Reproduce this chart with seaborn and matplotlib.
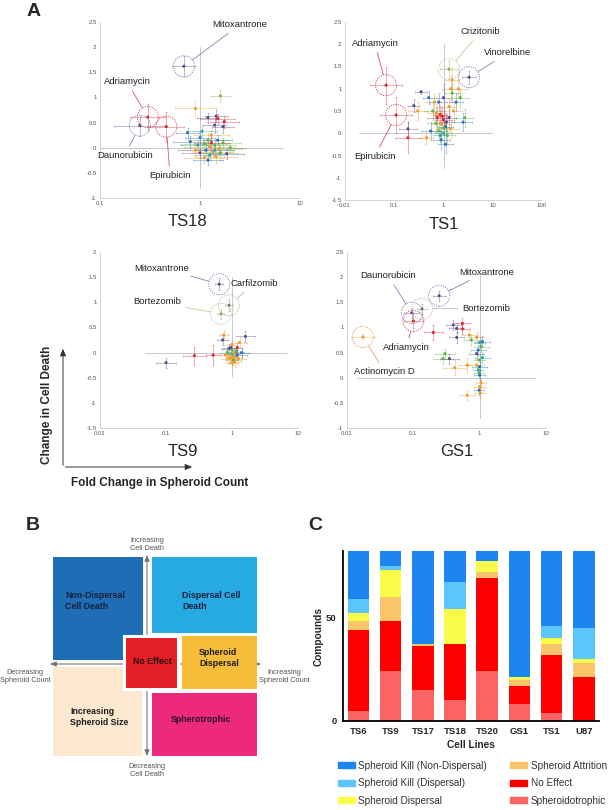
"""
Spheroid screen summary figure
==============================
A: four drug screens (fold change in spheroid count vs change in cell death)
B: classification schematic
C: stacked counts of compound classes per cell line
"""

import numpy as np
import pandas as pd
import matplotlib
matplotlib.use("Agg")
import matplotlib.pyplot as plt
from matplotlib.patches import Rectangle
from matplotlib.ticker import NullLocator
import seaborn as sns

sns.set_theme(style="white")
plt.rcParams["font.family"] = ["Liberation Sans", "DejaVu Sans"]

W, H = 615, 810

# point colours and the dotted ring colours
PALETTE = {
    "blue": "#2f6fc0", "orange": "#f39a2a", "green": "#5cb648", "red": "#e0262f",
    "purple": "#5b4a8b", "gray": "#7a7a70", "teal": "#2fa7a8", "olive": "#9aa45a",
}
RING = {
    "purple": "#8c80b4", "red": "#d9506a", "olive": "#c4c99a",
    "gray": "#b8b8b8", "orange": "#f0a050",
}

# ---------------- panel A data ----------------
TS18_X = [1.60, 0.90, 1.20, 1.45, 1.75, 1.50, 1.40, 1.70, 0.75, 1.05, 1.30, 1.20, 1.00, 0.95, 1.10, 1.25, 1.40,
          1.55, 1.15, 1.35, 1.00, 1.60, 1.25, 1.45, 0.90, 1.70, 1.85, 1.10, 1.30, 1.50, 2.00, 0.80, 1.20, 1.40]
TS18_Y = [1.03, 0.78, 0.60, 0.63, 0.52, 0.58, 0.45, 0.42, 0.30, 0.33, 0.25, 0.15, 0.20, 0.05, 0.08, 0.02, 0.05,
          -0.02, -0.05, -0.08, -0.10, -0.10, -0.15, -0.18, -0.05, 0.10, -0.12, -0.20, 0.10, 0.15, 0.00, 0.12, -0.25, -0.05]
TS18_XF = [1.25, 1.6, 1.3, 1.3, 1.4, 1.5, 1.3, 1.3, 1.3, 1.4, 1.5, 1.6, 1.4, 1.5, 1.7, 1.8, 1.6,
           1.7, 1.9, 1.6, 1.5, 1.5, 1.4, 1.6, 1.4, 1.5, 1.5, 1.6, 1.5, 1.4, 1.4, 1.5, 1.4, 1.5]
TS18_YE = [0.12, 0.15, 0.10, 0.12, 0.12, 0.10, 0.15, 0.12, 0.10, 0.10, 0.10, 0.15, 0.12, 0.10, 0.12, 0.15, 0.10,
           0.12, 0.12, 0.10, 0.10, 0.15, 0.10, 0.12, 0.12, 0.10, 0.10, 0.10, 0.15, 0.10, 0.10, 0.12, 0.10, 0.10]
TS18_C = ["olive", "orange", "purple", "purple", "red", "red", "purple", "purple", "blue", "teal", "orange", "green",
          "blue", "teal", "green", "orange", "green", "orange", "blue", "orange", "purple", "green", "teal", "orange",
          "orange", "green", "purple", "orange", "red", "blue", "green", "blue", "blue", "teal"]
TS18_HIT_NAMES = ["Mitoxantrone", "Adriamycin", "Daunorubicin", "Epirubicin"]
TS18_HIT_X = [0.69, 0.30, 0.25, 0.46]
TS18_HIT_Y = [1.62, 0.61, 0.44, 0.42]
TS18_HIT_XF = [1.3, 1.5, 1.8, 1.5]
TS18_HIT_YE = [0.20, 0.25, 0.20, 0.30]
TS18_HIT_C = ["purple", "red", "purple", "red"]

TS1_X = [0.35, 0.25, 0.19, 0.19, 0.50, 0.70, 0.30, 0.80, 1.00, 1.50, 1.40, 1.50, 2.00, 2.20, 1.80, 1.30, 0.60,
         0.75, 0.85, 1.00, 0.90, 1.10, 0.70, 0.80, 1.00, 1.20, 0.90, 1.10, 0.55, 0.45, 1.40, 2.50, 2.70, 1.30,
         0.65, 1.60, 1.00, 0.85, 1.15, 0.95]
TS1_Y = [0.93, 0.62, 0.10, -0.10, 0.80, 0.45, 0.50, 0.70, 0.80, 1.20, 1.00, 0.90, 1.00, 0.80, 0.70, 0.60, 0.50,
         0.35, 0.42, 0.30, 0.20, 0.15, 0.22, 0.05, 0.00, -0.05, -0.15, -0.25, 0.05, -0.10, 0.10, 0.25, 0.35, 0.35,
         0.70, 0.50, 0.12, -0.05, 0.25, 0.38]
TS1_XF = [1.3, 1.3, 1.5, 1.8, 1.3, 1.5, 1.6, 1.5, 1.4, 1.4, 1.5, 1.4, 1.5, 1.5, 1.4, 1.4, 1.5,
          1.6, 1.4, 1.5, 1.6, 1.4, 1.5, 1.6, 1.5, 1.4, 1.5, 1.4, 1.6, 1.4, 1.5, 1.5, 1.5, 1.4,
          1.4, 1.5, 1.3, 1.4, 1.4, 1.4]
TS1_YE = [0.05, 0.15, 0.15, 0.35, 0.15, 0.20, 0.20, 0.20, 0.30, 0.30, 0.30, 0.20, 0.20, 0.20, 0.20, 0.20, 0.20,
          0.25, 0.20, 0.20, 0.30, 0.20, 0.20, 0.20, 0.25, 0.20, 0.20, 0.20, 0.20, 0.15, 0.20, 0.20, 0.20, 0.20,
          0.20, 0.20, 0.15, 0.20, 0.20, 0.20]
TS1_C = ["purple", "purple", "purple", "red", "blue", "orange", "orange", "blue", "purple", "orange", "orange",
         "green", "orange", "green", "blue", "orange", "green", "red", "red", "red", "orange", "blue", "green",
         "green", "teal", "green", "blue", "blue", "blue", "orange", "orange", "blue", "green", "purple", "orange",
         "orange", "green", "teal", "purple", "red"]
TS1_HIT_NAMES = ["Adriamycin", "Epirubicin", "Crizitonib", "Vinorelbine"]
TS1_HIT_X = [0.068, 0.109, 1.29, 3.3]
TS1_HIT_Y = [1.08, 0.41, 1.44, 1.26]
TS1_HIT_XF = [2.1, 2.1, 1.5, 1.4]
TS1_HIT_YE = [0.42, 0.40, 0.20, 0.15]
TS1_HIT_C = ["red", "red", "olive", "purple"]

TS9_X = [0.10, 0.27, 0.52, 0.75, 0.72, 1.00, 0.90, 1.20, 1.60, 1.30, 0.85, 1.00, 1.10, 0.95, 1.05, 1.20, 0.90,
         1.15, 1.00, 1.25, 0.80, 1.10, 1.40, 0.95, 1.05, 1.00]
TS9_Y = [-0.20, -0.06, -0.05, 0.35, 0.25, 0.15, 0.08, 0.10, 0.32, 0.20, 0.00, -0.02, -0.08, -0.10, -0.15, -0.05,
         -0.12, 0.02, 0.05, -0.12, -0.05, -0.18, 0.00, 0.10, 0.00, -0.20]
TS9_XF = [1.4, 1.5, 1.3, 1.2, 1.2, 1.2, 1.3, 1.2, 1.4, 1.3, 1.3, 1.3, 1.3, 1.2, 1.3, 1.4, 1.3,
          1.3, 1.2, 1.3, 1.3, 1.3, 1.3, 1.3, 1.2, 1.2]
TS9_YE = [0.10, 0.18, 0.20, 0.10, 0.10, 0.10, 0.10, 0.10, 0.10, 0.10, 0.10, 0.10, 0.10, 0.10, 0.10, 0.10, 0.10,
          0.10, 0.10, 0.10, 0.10, 0.10, 0.10, 0.10, 0.10, 0.10]
TS9_C = ["purple", "red", "red", "orange", "purple", "orange", "blue", "red", "purple", "orange", "green", "teal",
         "orange", "orange", "green", "blue", "orange", "teal", "green", "orange", "orange", "orange", "blue",
         "purple", "orange", "orange"]
TS9_HIT_NAMES = ["Mitoxantrone", "Bortezomib", "Carfilzomib"]
TS9_HIT_X = [0.64, 0.68, 0.90]
TS9_HIT_Y = [1.36, 0.77, 0.94]
TS9_HIT_XF = [1.15, 1.15, 1.15]
TS9_HIT_YE = [0.12, 0.10, 0.12]
TS9_HIT_C = ["purple", "olive", "gray"]

GS1_X = [0.40, 0.45, 0.55, 0.55, 0.20, 0.45, 0.70, 0.75, 0.90, 1.00, 1.05, 0.95, 0.90, 0.30, 0.28, 0.35, 0.42,
         0.65, 0.90, 1.00, 0.95, 0.98, 1.00, 1.05, 1.00, 0.98, 1.02, 0.65, 1.10, 1.00, 1.10]
GS1_Y = [1.05, 0.98, 1.08, 0.97, 0.90, 0.80, 0.85, 0.75, 0.80, 0.70, 0.62, 0.55, 0.48, 0.48, 0.38, 0.38, 0.20,
         0.25, 0.25, 0.22, 0.15, 0.10, 0.05, -0.10, -0.18, -0.25, -0.30, -0.35, 0.40, 0.35, 0.72]
GS1_XF = [1.3, 1.3, 1.3, 1.3, 1.4, 1.3, 1.3, 1.3, 1.3, 1.2, 1.3, 1.3, 1.3, 1.4, 1.4, 1.4, 1.5,
          1.4, 1.3, 1.3, 1.2, 1.2, 1.2, 1.2, 1.2, 1.2, 1.2, 1.3, 1.3, 1.2, 1.3]
GS1_YE = [0.10, 0.10, 0.10, 0.10, 0.15, 0.10, 0.10, 0.10, 0.10, 0.10, 0.10, 0.10, 0.10, 0.10, 0.10, 0.10, 0.15,
          0.15, 0.10, 0.10, 0.10, 0.10, 0.10, 0.10, 0.10, 0.10, 0.10, 0.10, 0.10, 0.10, 0.10]
GS1_C = ["purple", "purple", "red", "red", "red", "purple", "orange", "green", "orange", "teal", "green", "blue",
         "purple", "green", "green", "purple", "orange", "orange", "orange", "blue", "teal", "green", "blue",
         "orange", "orange", "blue", "orange", "orange", "teal", "green", "blue"]
GS1_HIT_NAMES = ["Actinomycin D", "Adriamycin", "Daunorubicin", "Bortezomib", "Mitoxantrone"]
GS1_HIT_X = [0.0174, 0.10, 0.095, 0.135, 0.245]
GS1_HIT_Y = [0.81, 1.13, 1.29, 1.37, 1.63]
GS1_HIT_XF = [1.5, 1.4, 1.3, 1.2, 1.25]
GS1_HIT_YE = [0.05, 0.15, 0.10, 0.10, 0.10]
GS1_HIT_C = ["orange", "red", "purple", "gray", "purple"]

# ---------------- panel C data ----------------
CELL_LINES = ["TS6", "TS9", "TS17", "TS18", "TS20", "GS1", "TS1", "U87"]
SPHEROIDOTROPHIC = [5, 24, 15, 10, 24, 8, 4, 0]
NO_EFFECT = [39, 24, 21, 27, 45, 9, 28, 21]
ATTRITION = [4, 12, 1, 0, 3, 3, 5, 7]
DISPERSAL = [4, 13, 0, 17, 5, 1, 3, 2]
KILL_DISP = [7, 2, 0, 13, 0, 0, 6, 15]
KILL_NONDISP = [23, 7, 45, 15, 5, 61, 36, 37]
CLASS_NAMES = ["Spheroidotrophic", "No Effect", "Spheroid Attrition", "Spheroid Dispersal",
               "Spheroid Kill (Dispersal)", "Spheroid Kill (Non-Dispersal)"]
CLASS_COLORS = ["#fa6464", "#fc0000", "#f9c46a", "#fbfb4a", "#5cc6fa", "#1c85f0"]


def fig_rect(x0, y0, x1, y1):
    """Pixel box (top-left origin) -> figure fraction rect."""
    return [x0 / W, 1 - y1 / H, (x1 - x0) / W, (y1 - y0) / H]


def draw_screen(ax, x, y, xf, ye, cols, hit_names, hx, hy, hxf, hye, hcols, label_pos,
                xlim, ylim, xticks, yticks, vline, hline, title, title_x):
    ax.set_xscale("log")
    # reference cross at fold change 1 / no change in death
    ax.plot([1, 1], vline, color="#c8c8c8", lw=0.7, zorder=1)
    ax.plot(hline, [0, 0], color="#c8c8c8", lw=0.7, zorder=1)

    all_x = list(x) + list(hx)
    all_y = list(y) + list(hy)
    all_f = list(xf) + list(hxf)
    all_e = list(ye) + list(hye)
    all_c = list(cols) + list(hcols)
    for xi, yi, fi, ei, ci in zip(all_x, all_y, all_f, all_e, all_c):
        ax.errorbar(xi, yi, xerr=[[xi - xi / fi], [xi * fi - xi]], yerr=ei, fmt="none",
                    ecolor=PALETTE[ci], elinewidth=0.55, capsize=0.8, capthick=0.5, alpha=0.5, zorder=2)

    df = pd.DataFrame({"x": all_x, "y": all_y, "c": all_c})
    sns.scatterplot(data=df, x="x", y="y", hue="c", palette=PALETTE, s=5, edgecolor="none",
                    legend=False, ax=ax, zorder=3)

    ax.scatter(hx, hy, s=230, facecolors="none", edgecolors=[RING[c] for c in hcols],
               linewidths=0.7, linestyle=(0, (1.2, 1.2)), zorder=4)
    for name, xi, yi, ci, pos in zip(hit_names, hx, hy, hcols, label_pos):
        ax.annotate(name, xy=(xi, yi), xytext=pos, textcoords="axes fraction",
                    ha="center", va="center", fontsize=6.8, color="#222222",
                    arrowprops=dict(arrowstyle="-", color=RING[ci], lw=0.6, shrinkA=1, shrinkB=7.8))

    ax.set_xlim(*xlim)
    ax.set_ylim(*ylim)
    ax.set_xticks(xticks)
    ax.set_xticklabels([f"{t:g}" for t in xticks])
    ax.xaxis.set_minor_locator(NullLocator())
    ax.set_yticks(yticks)
    ax.set_yticklabels([f"{t:g}" for t in yticks])
    ax.tick_params(labelsize=4.3, labelcolor="#555555", length=0, pad=2.5)
    ax.set_xlabel("")
    ax.set_ylabel("")
    for side in ["top", "right"]:
        ax.spines[side].set_visible(False)
    for side in ["left", "bottom"]:
        ax.spines[side].set_color("#cccccc")
        ax.spines[side].set_linewidth(0.6)
    ax.text(title_x, -0.135, title, transform=ax.transAxes, ha="center", va="center", fontsize=12)


fig = plt.figure(figsize=(W / 100, H / 100), dpi=100)

# overlay in pixel coordinates for the schematic, panel letters and shared labels
ov = fig.add_axes([0, 0, 1, 1])
ov.set_xlim(0, W)
ov.set_ylim(H, 0)
ov.axis("off")
ov.patch.set_alpha(0)

for letter, (px, py) in zip("ABC", [(34, 12), (33, 525), (315, 525)]):
    ov.text(px, py, letter, fontsize=14, fontweight="bold", ha="center", va="center")

# ---------------- panel A ----------------
ax = fig.add_axes(fig_rect(100, 22, 300, 198))
draw_screen(ax, TS18_X, TS18_Y, TS18_XF, TS18_YE, TS18_C, TS18_HIT_NAMES, TS18_HIT_X, TS18_HIT_Y,
            TS18_HIT_XF, TS18_HIT_YE, TS18_HIT_C,
            [(0.70, 0.985), (0.135, 0.66), (0.125, 0.244), (0.35, 0.13)],
            (0.1, 10), (-1, 2.5), [0.1, 1, 10], np.arange(-1, 2.51, 0.5),
            (-0.8, 2.0), (0.1, 6.8), "TS18", 0.435)

ax = fig.add_axes(fig_rect(345, 22, 542, 200))
draw_screen(ax, TS1_X, TS1_Y, TS1_XF, TS1_YE, TS1_C, TS1_HIT_NAMES, TS1_HIT_X, TS1_HIT_Y,
            TS1_HIT_XF, TS1_HIT_YE, TS1_HIT_C,
            [(0.152, 0.88), (0.152, 0.247), (0.685, 0.944), (0.827, 0.826)],
            (0.01, 100), (-1.5, 2.5), [0.01, 0.1, 1, 10, 100], np.arange(-1.5, 2.51, 0.5),
            (-0.78, 2.0), (0.019, 9.6), "TS1", 0.5)

ax = fig.add_axes(fig_rect(100, 252, 298, 428))
draw_screen(ax, TS9_X, TS9_Y, TS9_XF, TS9_YE, TS9_C, TS9_HIT_NAMES, TS9_HIT_X, TS9_HIT_Y,
            TS9_HIT_XF, TS9_HIT_YE, TS9_HIT_C,
            [(0.313, 0.909), (0.288, 0.716), (0.78, 0.82)],
            (0.01, 10), (-1.5, 2), [0.01, 0.1, 1, 10], np.arange(-1.5, 2.01, 0.5),
            (-0.49, 1.5), (0.048, 6.8), "TS9", 0.42)

ax = fig.add_axes(fig_rect(347, 252, 546, 428))
draw_screen(ax, GS1_X, GS1_Y, GS1_XF, GS1_YE, GS1_C, GS1_HIT_NAMES, GS1_HIT_X, GS1_HIT_Y,
            GS1_HIT_XF, GS1_HIT_YE, GS1_HIT_C,
            [(0.19, 0.32), (0.30, 0.46), (0.206, 0.864), (0.70, 0.68), (0.70, 0.886)],
            (0.01, 10), (-1, 2.5), [0.01, 0.1, 1, 10], np.arange(-1, 2.51, 0.5),
            (-0.8, 2.05), (0.014, 6.9), "GS1", 0.55)

# shared axis key for panel A
arrow_kw = dict(arrowstyle="-|>,head_length=0.35,head_width=0.15", lw=0.7, color="#333333")
ov.annotate("", xy=(63, 346), xytext=(63, 468), arrowprops=arrow_kw)
ov.annotate("", xy=(195, 467), xytext=(62.6, 467), arrowprops=arrow_kw)
ov.text(47, 405, "Change in Cell Death", rotation=90, ha="center", va="center",
        fontsize=8.5, fontweight="bold")
ov.text(160, 483, "Fold Change in Spheroid Count", ha="center", va="center",
        fontsize=8.5, fontweight="bold")

# ---------------- panel B (schematic) ----------------
key_kw = dict(arrowstyle="<|-|>,head_length=0.3,head_width=0.12", lw=0.8, color="#777777")
ov.annotate("", xy=(147, 552), xytext=(147, 759), arrowprops=key_kw, zorder=1)
ov.annotate("", xy=(47, 664), xytext=(264, 664), arrowprops=key_kw, zorder=1)

boxes = [
    ((53, 557, 143, 660), "#1f6db4", "Non-Dispersal\nCell Death", (65, 601), "left", "#16203a"),
    ((152, 557, 257, 633), "#27a9e1", "Dispersal Cell\nDeath", (182, 601), "left", "#16203a"),
    ((53, 667, 142, 756), "#fde9d0", "Increasing\nSpheroid Size", (70, 717), "left", "#1a1a1a"),
    ((152, 693, 257, 756), "#ec297b", "Spherotrophic", (201, 720), "center", "#2a1030"),
    ((182, 636, 257, 689), "#f7bd3a", "Spheroid\nDispersal", (199, 658), "left", "#1a1a1a"),
    ((124, 636, 178, 689), "#e31e25", "No Effect", (152, 661), "center", "#2a0a10"),
]
for (x0, y0, x1, y1), col, label, (tx, ty), ha, tcol in boxes:
    edge = "white" if label == "No Effect" else "none"
    ov.add_patch(Rectangle((x0, y0), x1 - x0, y1 - y0, facecolor=col, edgecolor=edge, lw=2.2, zorder=2))
    ov.text(tx, ty, label, ha=ha, va="center", fontsize=6.3, fontweight="bold", color=tcol,
            linespacing=1.25, zorder=3)

for (tx, ty), label in zip([(147, 545), (147, 771), (25, 677), (284, 677)],
                           ["Increasing\nCell Death", "Decreasing\nCell Death",
                            "Decreasing\nSpheroid Count", "Increasing\nSpheroid Count"]):
    ov.text(tx, ty, label, ha="center", va="center", fontsize=5.3, color="#555555", linespacing=1.2)

# ---------------- panel C ----------------
axc = fig.add_axes(fig_rect(343, 551, 599, 721))
layers = np.array([SPHEROIDOTROPHIC, NO_EFFECT, ATTRITION, DISPERSAL, KILL_DISP, KILL_NONDISP])
cum = np.cumsum(layers, axis=0)
# draw the tallest cumulative layer first so the lower classes sit on top of it
for i in reversed(range(len(CLASS_NAMES))):
    sns.barplot(x=CELL_LINES, y=cum[i], color=CLASS_COLORS[i], width=0.67, saturation=1,
                linewidth=0, ax=axc)
axc.set_ylim(0, 82)
axc.set_xlim(-0.48, len(CELL_LINES) - 0.53)
axc.set_yticks([0, 50])
axc.set_xlabel("Cell Lines", fontsize=7.3, fontweight="bold", labelpad=3)
axc.set_ylabel("Compounds", fontsize=7.3, fontweight="bold", labelpad=2)
axc.tick_params(axis="both", length=3, width=1, direction="out", labelsize=6.8, pad=1.5, color="black")
for lbl in axc.get_xticklabels() + axc.get_yticklabels():
    lbl.set_fontweight("bold")
for side in ["top", "right"]:
    axc.spines[side].set_visible(False)
for side in ["left", "bottom"]:
    axc.spines[side].set_color("black")
    axc.spines[side].set_linewidth(1.3)

legend_order = [5, 4, 3, 2, 1, 0]
handles = [Rectangle((0, 0), 1, 1, color=CLASS_COLORS[i]) for i in legend_order]
fig.legend(handles, [CLASS_NAMES[i] for i in legend_order], loc="upper left",
           bbox_to_anchor=(335 / W, 1 - 758 / H), ncol=2, frameon=False, fontsize=7.2,
           handlelength=1.7, handleheight=0.55, handletextpad=0.35, columnspacing=2.3,
           labelspacing=0.75, labelcolor="#333333", borderaxespad=0, borderpad=0.3)

fig.savefig("out.png", dpi=100)
plt.close(fig)
